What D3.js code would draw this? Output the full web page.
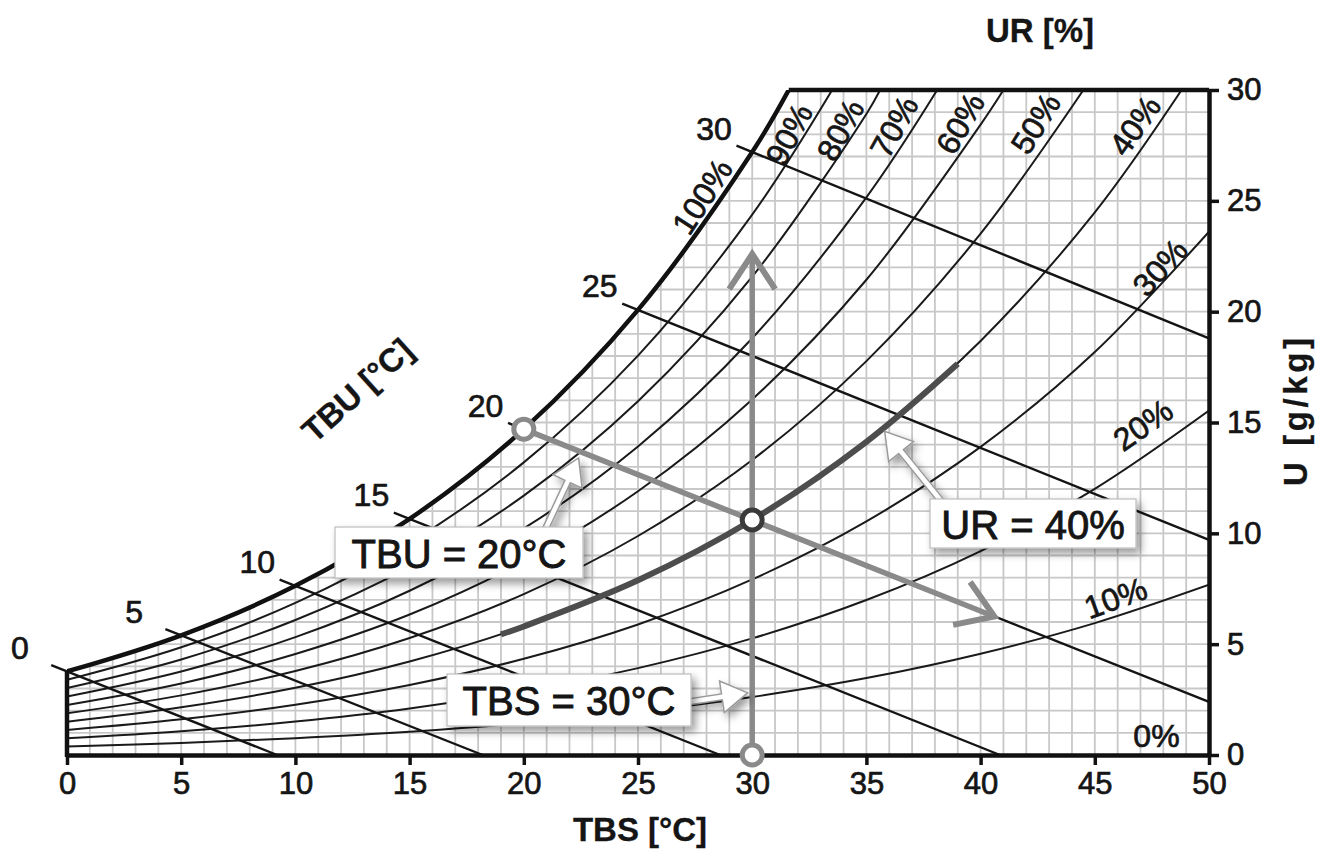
<!DOCTYPE html>
<meta charset="utf-8">
<head>
<style>
  body { margin: 0; background: #fff; }
  text { font-family: "Liberation Sans", Arial, sans-serif; fill: #151515; stroke: #151515; stroke-width: 0.7px; }
  .grid line { stroke: #c8c8c8; stroke-width: 1.8; }
  .rh { fill: none; stroke: #1a1a1a; stroke-width: 2; }
  .wb { fill: none; stroke: #141414; stroke-width: 2.4; }
  .sat { fill: none; stroke: #111; stroke-width: 4.5; }
  .frame { stroke: #111; stroke-width: 4.5; }
  .axis .domain { stroke: #111; stroke-width: 4.5; }
  .axis .tick line { stroke: #111; stroke-width: 3.5; }
  .axis .tick text { font-size: 31px; fill: #151515; }
  .title { font-size: 33px; font-weight: bold; stroke-width: 0.3px; }
  .lbl { font-size: 32px; }
  .callout text { font-size: 40px; stroke-width: 0.9px; }
</style>
</head>
<body>
<div id="my_dataviz"></div>
<script src="https://d3js.org/d3.v7.min.js"></script>
<script>

// dry bulb temperatures (TBS, °C) where the UR curves were read
var tdb = [0, 5, 10, 15, 20, 25, 30, 35, 40, 45, 50];

// relative humidity curves, moisture content U in g/kg (one row per level)
var rhLevels = [100, 90, 80, 70, 60, 50, 40, 30, 20, 10];
var rhMoisture = [
  [3.77, 5.40, 7.63, 10.65, 14.70, 20.08, 27.20],
  [3.39, 4.86, 6.86, 9.57, 13.20, 18.02, 24.38],
  [3.02, 4.31, 6.09, 8.49, 11.70, 15.96, 21.58, 28.92],
  [2.64, 3.77, 5.32, 7.41, 10.22, 13.92, 18.80, 25.16],
  [2.26, 3.23, 4.56, 6.34, 8.74, 11.90, 16.04, 21.44, 28.44],
  [1.88, 2.69, 3.79, 5.28, 7.26, 9.88, 13.31, 17.77, 23.52],
  [1.50, 2.15, 3.03, 4.22, 5.80, 7.88, 10.60, 14.13, 18.68, 24.48],
  [1.13, 1.61, 2.27, 3.16, 4.34, 5.89, 7.92, 10.54, 13.90, 18.18, 23.61],
  [0.75, 1.07, 1.51, 2.10, 2.89, 3.92, 5.26, 6.99, 9.20, 12.01, 15.54],
  [0.38, 0.54, 0.76, 1.05, 1.44, 1.95, 2.62, 3.47, 4.57, 5.95, 7.68]
];
// TBS where each curve meets the top of the chart (U = 30)
var rhTopTemp = [31.6, 33.5, 35.6, 38.1, 41.0, 44.5, 48.8, null, null, null];

// wet bulb lines (TBU)
var tbu = [0, 5, 10, 15, 20, 25, 30];
var tbuSatW = [3.77, 5.40, 7.63, 10.65, 14.70, 20.08, 27.20];
var tbuEndT = [9.2, 18.2, 28.6, 40.85, 50, 50, 50];
var tbuEndW = [0, 0, 0, 0, 2.4, 9.7, 18.8];

// highlighted UR = 40% segment
var hlTemp = [19, 20, 25, 30, 35, 39];
var hlW = [5.44, 5.80, 7.88, 10.60, 14.13, 17.65];

// example state: TBS 30, TBU 20
var tbsArrowT = [30, 30], tbsArrowW = [0, 22.6];
var tbuArrowT = [20, 40.6], tbuArrowW = [14.7, 6.25];
var pointT = [20, 30, 30], pointW = [14.7, 10.6, 0];

// tick labels
var xTicks = [0, 5, 10, 15, 20, 25, 30, 35, 40, 45, 50];
var yTicks = [0, 5, 10, 15, 20, 25, 30];

// UR curve labels
var rhLabelText = ["100%", "90%", "80%", "70%", "60%", "50%", "40%", "30%", "20%", "10%", "0%"];
var rhLabelT = [27.8, 31.6, 33.85, 36.2, 39.1, 42.4, 46.75, 47.85, 47.1, 45.9, 47.7];
var rhLabelW = [25.2, 28.0, 28.2, 28.35, 28.5, 28.5, 28.4, 22.0, 14.9, 7.1, 0.9];
var rhLabelAngle = [-57, -62, -62, -61, -60, -58, -55, -48, -35, -20, 0];

// callouts
var calloutText = ["TBU = 20°C", "UR = 40%", "TBS = 30°C"];
var calloutTipT = [22.4, 35.8, 29.8];
var calloutTipW = [13.4, 14.6, 2.8];

var margin = {top: 90, right: 110, bottom: 94, left: 67},
    width = 1319 - margin.left - margin.right,
    height = 849 - margin.top - margin.bottom;

var svg = d3.select("#my_dataviz")
  .append("svg")
    .attr("width", 1319)
    .attr("height", 849)
  .append("g")
    .attr("transform", "translate(" + margin.left + "," + margin.top + ")");

var x = d3.scaleLinear().domain([0, 50]).range([0, width]);
var y = d3.scaleLinear().domain([0, 30]).range([height, 0]);

var defs = svg.append("defs");
var shadow = defs.append("filter").attr("id", "shadow")
  .attr("x", "-20%").attr("y", "-30%").attr("width", "150%").attr("height", "180%");
shadow.append("feDropShadow")
  .attr("dx", 4).attr("dy", 5).attr("stdDeviation", 4)
  .attr("flood-color", "#000").attr("flood-opacity", 0.4);

var curve = d3.curveCatmullRom.alpha(0.5);
var line = d3.line().x(function(d) { return x(d[0]); }).y(function(d) { return y(d[1]); }).curve(curve);

function rhPoints(i) {
  var pts = [];
  rhMoisture[i].forEach(function(w, j) { pts.push([tdb[j], w]); });
  if (rhTopTemp[i] != null) pts.push([rhTopTemp[i], 30]);
  return pts;
}
var satPts = rhPoints(0);

// clip area below saturation
defs.append("clipPath").attr("id", "under")
  .append("path")
  .attr("d", line(satPts) + "L" + x(50) + "," + y(30) + "L" + x(50) + "," + y(0) + "L" + x(0) + "," + y(0) + "Z");
defs.append("clipPath").attr("id", "plot")
  .append("rect").attr("x", 0).attr("y", 0).attr("width", width).attr("height", height);

// fine grid: 1 °C by 1 g/kg
var grid = svg.append("g").attr("class", "grid").attr("clip-path", "url(#under)");
grid.selectAll(".gx").data(d3.range(0, 51)).enter().append("line")
  .attr("x1", function(d) { return x(d); }).attr("x2", function(d) { return x(d); })
  .attr("y1", y(0)).attr("y2", y(30));
grid.selectAll(".gy").data(d3.range(0, 31)).enter().append("line")
  .attr("x1", x(0)).attr("x2", x(50))
  .attr("y1", function(d) { return y(d); }).attr("y2", function(d) { return y(d); });

// UR curves
var rhG = svg.append("g").attr("clip-path", "url(#plot)");
rhG.selectAll("path").data(rhLevels.slice(1)).enter().append("path")
  .attr("class", "rh")
  .attr("d", function(d, i) { return line(rhPoints(i + 1)); });

// wet bulb lines, with a short tick beyond the saturation curve
svg.selectAll(".wb").data(tbu).enter().append("path")
  .attr("class", "wb")
  .attr("d", function(d, i) {
    var x0 = x(d), y0 = y(tbuSatW[i]), x1 = x(tbuEndT[i]), y1 = y(tbuEndW[i]);
    var L = Math.hypot(x1 - x0, y1 - y0), ext = 17;
    return "M" + (x0 - (x1 - x0) / L * ext) + "," + (y0 - (y1 - y0) / L * ext) + "L" + x1 + "," + y1;
  });

svg.selectAll(".tbuLbl").data(tbu).enter().append("text")
  .attr("class", "lbl")
  .attr("text-anchor", "start")
  .attr("dy", "0.36em")
  .attr("x", function(d) { return x(d) - 56; })
  .attr("y", function(d, i) { return y(tbuSatW[i]) - 24; })
  .text(function(d) { return d; });

// saturation curve and frame
svg.append("path").attr("class", "sat").attr("d", line(satPts)).attr("clip-path", "url(#plot)");
svg.append("line").attr("class", "frame")
  .attr("x1", x(rhTopTemp[0])).attr("x2", x(50)).attr("y1", y(30)).attr("y2", y(30));
svg.append("line").attr("class", "frame")
  .attr("x1", x(0)).attr("x2", x(0)).attr("y1", y(0) + 2).attr("y2", y(tbuSatW[0]));

svg.append("g").attr("class", "axis")
  .attr("transform", "translate(0," + height + ")")
  .call(d3.axisBottom(x).tickValues(xTicks).tickSize(10).tickSizeOuter(0).tickPadding(7).tickFormat(d3.format("d")));
svg.append("g").attr("class", "axis")
  .attr("transform", "translate(" + width + ",0)")
  .call(d3.axisRight(y).tickValues(yTicks).tickSize(10).tickSizeOuter(0).tickPadding(8).tickFormat(d3.format("d")));

// UR labels
svg.selectAll(".rhLbl").data(rhLabelText).enter().append("text")
  .attr("class", "lbl")
  .attr("text-anchor", "middle")
  .attr("dy", "0.36em")
  .attr("transform", function(d, i) {
    return "translate(" + x(rhLabelT[i]) + "," + y(rhLabelW[i]) + ") rotate(" + rhLabelAngle[i] + ")";
  })
  .text(function(d) { return d; });

// highlighted UR 40% segment
svg.append("path")
  .attr("d", line(hlTemp.map(function(t, i) { return [t, hlW[i]]; })))
  .attr("fill", "none").attr("stroke", "#4d4d4d").attr("stroke-width", 6);

// gray arrows
function grayArrow(ts, ws) {
  var x0 = x(ts[0]), y0 = y(ws[0]), x1 = x(ts[1]), y1 = y(ws[1]);
  svg.append("line").attr("x1", x0).attr("y1", y0).attr("x2", x1).attr("y2", y1)
    .attr("stroke", "#8a8a8a").attr("stroke-width", 5.5);
  var a = Math.atan2(y0 - y1, x0 - x1), len = 42, spread = 0.58;
  svg.append("path")
    .attr("d", "M" + (x1 + len * Math.cos(a + spread)) + "," + (y1 + len * Math.sin(a + spread)) +
      "L" + x1 + "," + y1 +
      "L" + (x1 + len * Math.cos(a - spread)) + "," + (y1 + len * Math.sin(a - spread)))
    .attr("fill", "none").attr("stroke", "#8a8a8a").attr("stroke-width", 6)
    .attr("stroke-linejoin", "miter");
}
grayArrow(tbsArrowT, tbsArrowW);
grayArrow(tbuArrowT, tbuArrowW);

svg.selectAll(".pt").data(pointT).enter().append("circle")
  .attr("cx", function(d) { return x(d); })
  .attr("cy", function(d, i) { return y(pointW[i]); })
  .attr("r", 10)
  .attr("fill", "#fff")
  .attr("stroke", function(d, i) { return i == 1 ? "#3a3a3a" : "#8a8a8a"; })
  .attr("stroke-width", 5);

// callouts (box layout in px)
var boxX = [335, 930, 447], boxY = [527, 499, 674], boxW = [248, 206, 244], boxH = [51, 49, 52];
var tailX = [545, 942, 688], tailY = [530, 502, 702];

function blockArrow(x0, y0, x1, y1) {
  var dx = x1 - x0, dy = y1 - y0, L = Math.hypot(dx, dy), ux = dx / L, uy = dy / L, nx = -uy, ny = ux;
  var sw = 3, hl = 26, hw = 16, bx = x1 - ux * hl, by = y1 - uy * hl;
  var p = [[x0 + nx * sw, y0 + ny * sw], [bx + nx * sw, by + ny * sw], [bx + nx * hw, by + ny * hw], [x1, y1],
           [bx - nx * hw, by - ny * hw], [bx - nx * sw, by - ny * sw], [x0 - nx * sw, y0 - ny * sw]];
  return "M" + p.join("L") + "Z";
}

var co = svg.selectAll(".callout").data(calloutText).enter().append("g").attr("class", "callout");
co.append("path")
  .attr("d", function(d, i) { return blockArrow(tailX[i] - margin.left, tailY[i] - margin.top, x(calloutTipT[i]), y(calloutTipW[i])); })
  .attr("fill", "#fff").attr("stroke", "#9a9a9a").attr("stroke-width", 1.5)
  .attr("filter", "url(#shadow)");
co.append("rect")
  .attr("x", function(d, i) { return boxX[i] - margin.left; })
  .attr("y", function(d, i) { return boxY[i] - margin.top; })
  .attr("width", function(d, i) { return boxW[i]; })
  .attr("height", function(d, i) { return boxH[i]; })
  .attr("fill", "#fff").attr("stroke", "#bdbdbd").attr("stroke-width", 1.2)
  .attr("filter", "url(#shadow)");
co.append("text")
  .attr("text-anchor", "middle")
  .attr("dy", "0.36em")
  .attr("x", function(d, i) { return boxX[i] - margin.left + boxW[i] / 2; })
  .attr("y", function(d, i) { return boxY[i] - margin.top + boxH[i] / 2 + 1; })
  .text(function(d) { return d; });

// axis titles
svg.append("text").attr("class", "title").attr("text-anchor", "middle")
  .attr("x", 640 - margin.left).attr("y", 841 - margin.top).text("TBS [°C]");
svg.append("text").attr("class", "title").attr("text-anchor", "middle")
  .attr("x", 1040 - margin.left).attr("y", 42 - margin.top).text("UR [%]");
svg.append("text").attr("class", "title").attr("text-anchor", "middle")
  .attr("transform", "translate(" + (1307 - margin.left) + "," + (412 - margin.top) + ") rotate(-90)")
  .attr("textLength", 148).attr("lengthAdjust", "spacing")
  .text("U [g/kg]");
svg.append("text").attr("class", "title").attr("text-anchor", "middle")
  .attr("transform", "translate(" + (357 - margin.left) + "," + (390 - margin.top) + ") rotate(-42)")
  .attr("dy", "0.36em")
  .text("TBU [°C]");

</script>
</body>
